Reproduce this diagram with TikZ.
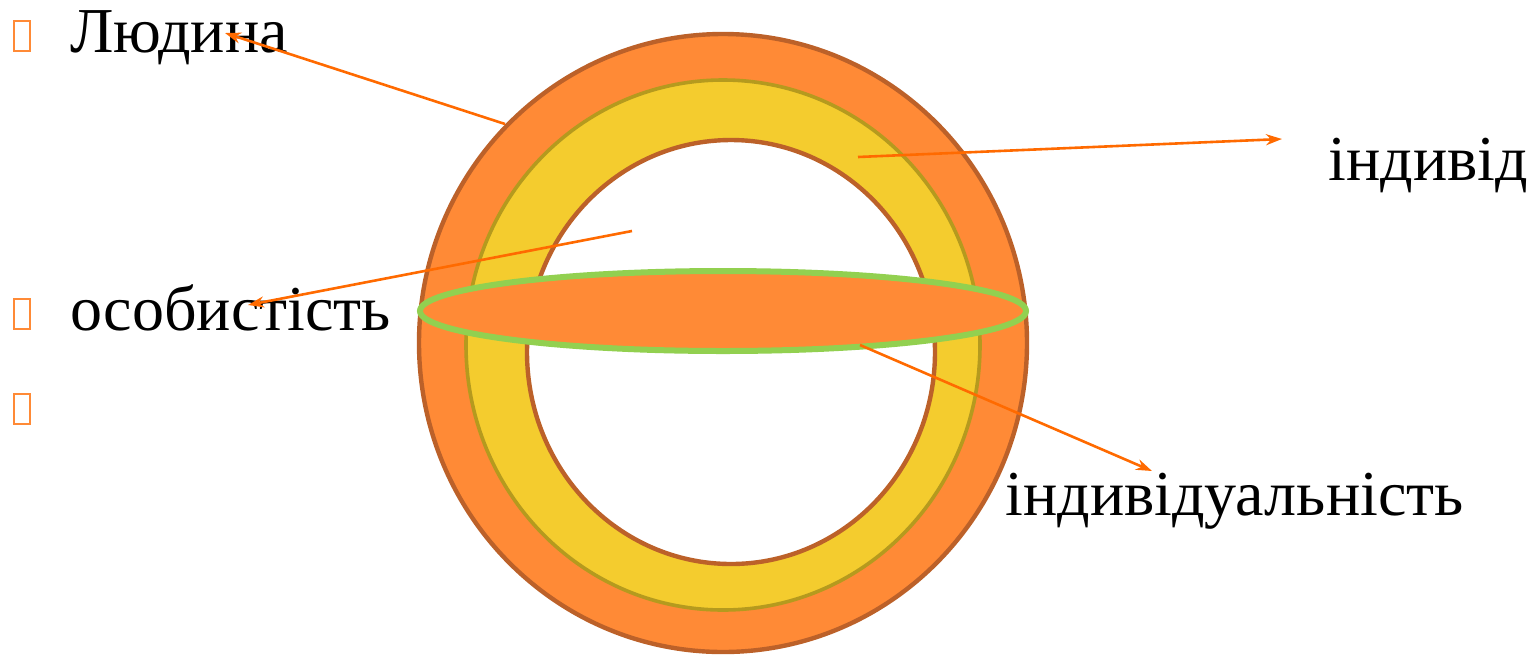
\documentclass[tikz,border=0pt]{standalone}
\usepackage{fontspec}
\setmainfont{Liberation Serif}
\usetikzlibrary{arrows.meta}
\definecolor{ringorange}{HTML}{FF8A36}
\definecolor{ringbrown}{HTML}{BC6129}
\definecolor{ringyellow}{HTML}{F4CC2E}
\definecolor{ringolive}{HTML}{B59A1E}
\definecolor{lgreen}{HTML}{92D050}
\definecolor{arr}{HTML}{FF6A00}
\tikzset{
  lbl/.style={anchor=base west, inner sep=0pt, font=\fontsize{32pt}{38pt}\selectfont},
  bul/.style={draw=ringorange, line width=1.4pt},
  arw/.style={draw=arr, line width=1.3pt, -{Stealth[length=8pt,width=5.5pt]}}
}
\begin{document}
\begin{tikzpicture}[x=0.5pt,y=-0.5pt]
\useasboundingbox (0,0) rectangle (1533,655);
% rings
\fill[ringorange, draw=ringbrown, line width=2.2pt] (723,343) ellipse [x radius=304, y radius=309];
\fill[ringyellow, draw=ringolive, line width=1.8pt] (723,345) ellipse [x radius=257, y radius=265];
\fill[white, draw=ringbrown, line width=2.2pt] (731,352) ellipse [x radius=204, y radius=212];
\fill[ringorange, draw=lgreen, line width=3pt] (723,311) ellipse [x radius=303, y radius=40];
% bullets
\draw[bul] (14,21) rectangle (30,51);
\draw[bul] (14,299) rectangle (30,329);
\draw[bul] (14,394) rectangle (30,424);
% labels
\node[lbl] (l1) at (70,52) {Людина};
\node[lbl] (l2) at (70,330) {особистість};
\node[lbl] (l3) at (1328,180) {індивід};
\node[lbl] (l4) at (1005,515) {індивідуальність};
% arrow endpoints
\coordinate (s1) at (505,124);
\coordinate (e1) at (225,33);
\coordinate (s2) at (858,157);
\coordinate (e2) at (1282,139);
\coordinate (s3) at (632,231);
\coordinate (e3) at (248,305);
\coordinate (s4) at (860,345);
\coordinate (e4) at (1152,471);
\draw[arw] (s1) -- (e1);
\draw[arw] (s2) -- (e2);
\draw[arw] (s3) -- (e3);
\draw[arw] (s4) -- (e4);
\end{tikzpicture}
\end{document}
